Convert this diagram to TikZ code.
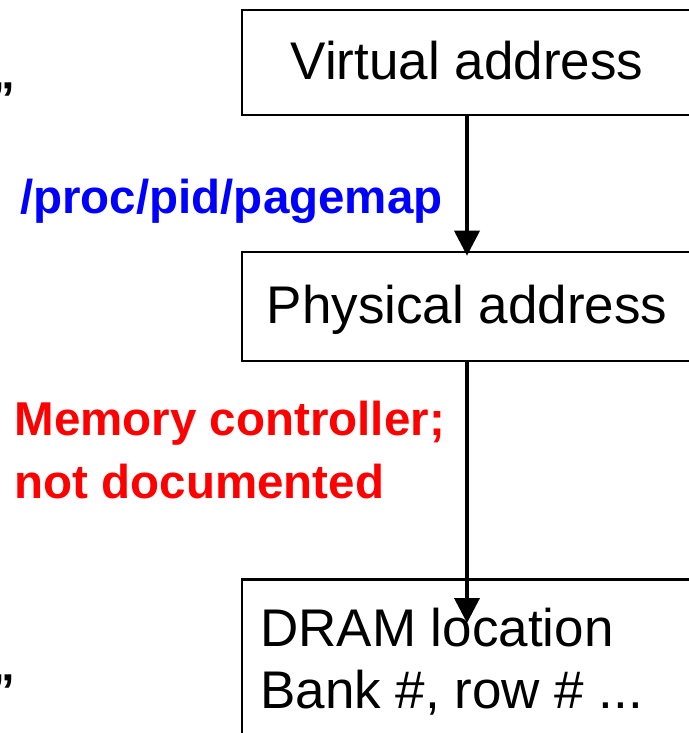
\documentclass[tikz,border=0pt]{standalone}
\usepackage{fontspec}
\setmainfont{Liberation Sans}
\usetikzlibrary{arrows.meta}
\begin{document}
\begin{tikzpicture}[x=1bp,y=-1bp,
  box/.style={draw=black,line width=2.6bp,rectangle,inner sep=0pt,minimum width=450bp},
  boxtext/.style={font=\fontsize{53bp}{62bp}\selectfont},
  label/.style={boxtext,text height=38bp,text depth=4bp},
  note/.style={font=\bfseries\fontsize{47.5bp}{63bp}\selectfont,inner sep=0pt,align=left},
  flow/.style={line width=3.8bp,-{Triangle[width=25bp,length=25bp]}},
]
\useasboundingbox (0,0) rectangle (689,733);
\clip (0,0) rectangle (689,733);

% address boxes
\node[box,label,minimum height=105bp] (virt) at (467,62.5) {Virtual address};
\node[box,label,minimum height=109bp] (phys) at (467,306.5) {Physical address};
\node[box,minimum height=220bp,anchor=north] (dram) at (467,578) {};
\node[boxtext,inner sep=0pt,align=left,anchor=north west] (dramtext) at (260,608)
  {DRAM location\\Bank \#, row \# ...};

% side annotations
\node[note,anchor=base west] (q1) at (-8.5,116) {”};
\node[note,anchor=base west] (q2) at (-8.5,707) {”};
\node[note,text=blue,anchor=base west] (pagemap) at (20,213) {/proc/pid/pagemap};
\node[note,text=red,anchor=north west] (mctrl) at (14.5,401)
  {Memory controller;\\not documented};

% translation steps
\coordinate (dtip) at (467,623);
\draw[flow] (virt.south) -- ([yshift=-5bp]phys.north);
\draw[flow] (phys.south) -- (dtip);
\end{tikzpicture}
\end{document}
